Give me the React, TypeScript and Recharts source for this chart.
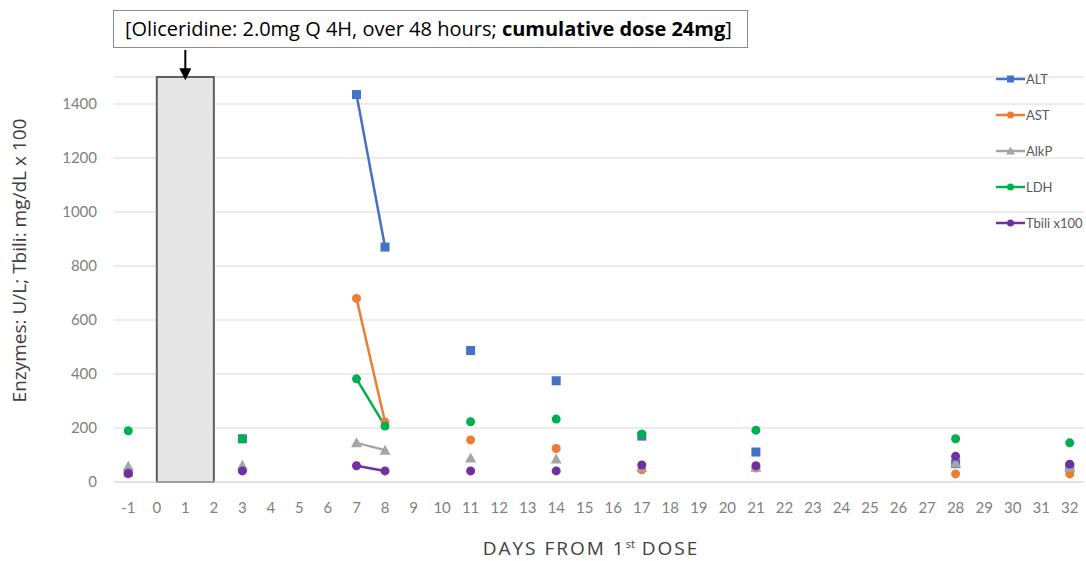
import React from "react";
import {
  ComposedChart,
  Line,
  XAxis,
  YAxis,
  CartesianGrid,
  ReferenceArea,
  ReferenceLine,
  Legend,
} from "recharts";

// all day categories on the x axis
const DAYS = [
  -1, 0, 1, 2, 3, 4, 5, 6, 7, 8, 9, 10, 11, 12, 13, 14, 15, 16, 17, 18, 19, 20, 21, 22, 23, 24, 25,
  26, 27, 28, 29, 30, 31, 32,
];

// days on which labs were drawn
const SAMPLE_DAYS = [-1, 3, 7, 8, 11, 14, 17, 21, 28, 32];

const ALT = [35, 160, 1435, 870, 487, 375, 170, 111, 68, 55];
const AST = [30, 45, 680, 222, 156, 124, 45, 52, 30, 30];
const ALKP = [58, 62, 145, 118, 89, 85, 55, 55, 70, 55];
const LDH = [190, 160, 382, 207, 223, 233, 178, 192, 160, 145];
const TBILI = [32, 41, 60, 41, 41, 41, 63, 60, 95, 66];

// dosing window (day 0 -> day 2)
const DOSE_START = 0;
const DOSE_END = 2;
const DOSE_MID = 1;

const Y_TICKS = [0, 200, 400, 600, 800, 1000, 1200, 1400];

const FONT = "Lato, 'Open Sans', sans-serif";
const TITLE_FONT = "'Open Sans', sans-serif";

type Shape = "square" | "circle" | "triangle";

const SERIES: { key: string; name: string; values: number[]; color: string; shape: Shape }[] = [
  { key: "alt", name: "ALT", values: ALT, color: "#4472C4", shape: "square" },
  { key: "ast", name: "AST", values: AST, color: "#ED7D31", shape: "circle" },
  { key: "alkp", name: "AlkP", values: ALKP, color: "#A5A5A5", shape: "triangle" },
  { key: "ldh", name: "LDH", values: LDH, color: "#00B050", shape: "circle" },
  { key: "tbili", name: "Tbili x100", values: TBILI, color: "#7030A0", shape: "circle" },
];

const data = DAYS.map((day) => {
  const row: Record<string, number | null> = { day };
  const i = SAMPLE_DAYS.indexOf(day);
  SERIES.forEach((s) => {
    row[s.key] = i >= 0 ? s.values[i] : null;
  });
  return row;
});

function marker(shape: Shape, color: string, cx: number, cy: number, size: number) {
  const h = size / 2;
  if (shape === "square") {
    return <rect x={cx - h} y={cy - h} width={size} height={size} fill={color} />;
  }
  if (shape === "triangle") {
    return (
      <polygon
        points={`${cx},${cy - h - 1} ${cx + h + 1},${cy + h} ${cx - h - 1},${cy + h}`}
        fill={color}
      />
    );
  }
  return <circle cx={cx} cy={cy} r={h} fill={color} />;
}

const makeDot = (shape: Shape, color: string) => (props: any) => {
  const { cx, cy, index } = props;
  if (cx == null || cy == null || props.value == null) return <g key={`d-${index}`} />;
  return <g key={`d-${index}`}>{marker(shape, color, cx, cy, 9)}</g>;
};

// the reference area covers whole bands; trim half a band at each end so it runs centre to centre
const DoseBox = (props: any) => {
  const { x, y, width, height } = props;
  const bands = DAYS.indexOf(DOSE_END) - DAYS.indexOf(DOSE_START) + 1;
  const half = width / bands / 2;
  return (
    <rect
      x={x + half}
      y={y}
      width={width - 2 * half}
      height={height}
      fill="#E6E6E6"
      stroke="#5F5F5F"
      strokeWidth={2}
    />
  );
};

const renderLegend = () => (
  <div style={{ fontFamily: FONT, fontSize: 13, color: "#595959" }}>
    {SERIES.map((s) => (
      <div key={s.key} style={{ display: "flex", alignItems: "center", height: 36 }}>
        <svg width={29} height={10} style={{ marginRight: 1 }}>
          <line x1={0} y1={5} x2={29} y2={5} stroke={s.color} strokeWidth={2.5} />
          {marker(s.shape, s.color, 14.5, 5, 7)}
        </svg>
        <span>{s.name}</span>
      </div>
    ))}
  </div>
);

const XTitle = (props: any) => {
  const { viewBox } = props;
  const cx = viewBox.x + viewBox.width / 2 - 8;
  return (
    <text
      x={cx}
      y={555}
      textAnchor="middle"
      fill="#404040"
      fontSize={19}
      letterSpacing={2}
      fontFamily={TITLE_FONT}
    >
      DAYS FROM 1
      <tspan fontSize={11} dy={-7} letterSpacing={0}>
        st
      </tspan>
      <tspan dy={7}> DOSE</tspan>
    </text>
  );
};

const YTitle = (props: any) => {
  const { viewBox } = props;
  const cy = viewBox.y + viewBox.height / 2 - 19;
  return (
    <text
      x={26}
      y={cy}
      transform={`rotate(-90, 26, ${cy})`}
      textAnchor="middle"
      fill="#404040"
      fontSize={19}
      fontFamily={TITLE_FONT}
    >
      Enzymes: U/L; Tbili: mg/dL x 100
    </text>
  );
};

export default function App() {
  return (
    <div
      style={{
        position: "absolute",
        left: 0,
        top: 0,
        width: 1086,
        height: 561,
        background: "#fff",
        fontFamily: FONT,
      }}
    >
      <ComposedChart
        width={1086}
        height={561}
        data={data}
        margin={{ top: 77, right: 2, left: 0, bottom: 0 }}
      >
        <defs>
          <marker id="arrowHead" markerWidth="6" markerHeight="6" refX="3" refY="3" orient="auto">
            <path d="M0,0 L6,3 L0,6 Z" fill="#000" />
          </marker>
        </defs>
        <CartesianGrid horizontal vertical={false} stroke="#D9D9D9" />
        <XAxis
          dataKey="day"
          type="category"
          scale="band"
          height={79}
          tick={{ fontSize: 15, fill: "#7F7F7F" }}
          tickLine={false}
          axisLine={{ stroke: "#D9D9D9" }}
          tickMargin={14}
          interval={0}
          label={<XTitle />}
        />
        <YAxis
          width={114}
          domain={[0, 1500]}
          ticks={Y_TICKS}
          tick={{ fontSize: 15, fill: "#7F7F7F" }}
          tickLine={false}
          axisLine={false}
          tickMargin={11}
          label={<YTitle />}
        />
        <ReferenceArea
          x1={DOSE_START}
          x2={DOSE_END}
          y1={0}
          y2={1500}
          shape={<DoseBox />}
          ifOverflow="visible"
        />
        <ReferenceLine
          segment={[
            { x: DOSE_MID, y: 1600 },
            { x: DOSE_MID, y: 1510 },
          ]}
          stroke="#000"
          strokeWidth={2}
          markerEnd="url(#arrowHead)"
          ifOverflow="visible"
        />
        {SERIES.map((s) => (
          <Line
            key={s.key}
            dataKey={s.key}
            name={s.name}
            stroke={s.color}
            strokeWidth={2.5}
            dot={makeDot(s.shape, s.color)}
            activeDot={false}
            connectNulls={false}
            isAnimationActive={false}
          />
        ))}
        <Legend
          content={renderLegend}
          layout="vertical"
          align="center"
          verticalAlign="middle"
          wrapperStyle={{ top: 61, left: 996, width: 90 }}
        />
      </ComposedChart>
      <div
        style={{
          position: "absolute",
          left: 113,
          top: 10,
          width: 635,
          height: 38,
          boxSizing: "border-box",
          border: "1px solid #8C8C8C",
          background: "#fff",
          fontFamily: TITLE_FONT,
          fontSize: 20,
          color: "#000",
          lineHeight: "35px",
          paddingLeft: 11,
          whiteSpace: "nowrap",
        }}
      >
        [Oliceridine: 2.0mg Q 4H, over 48 hours; <b>cumulative dose 24mg</b>]
      </div>
    </div>
  );
}
